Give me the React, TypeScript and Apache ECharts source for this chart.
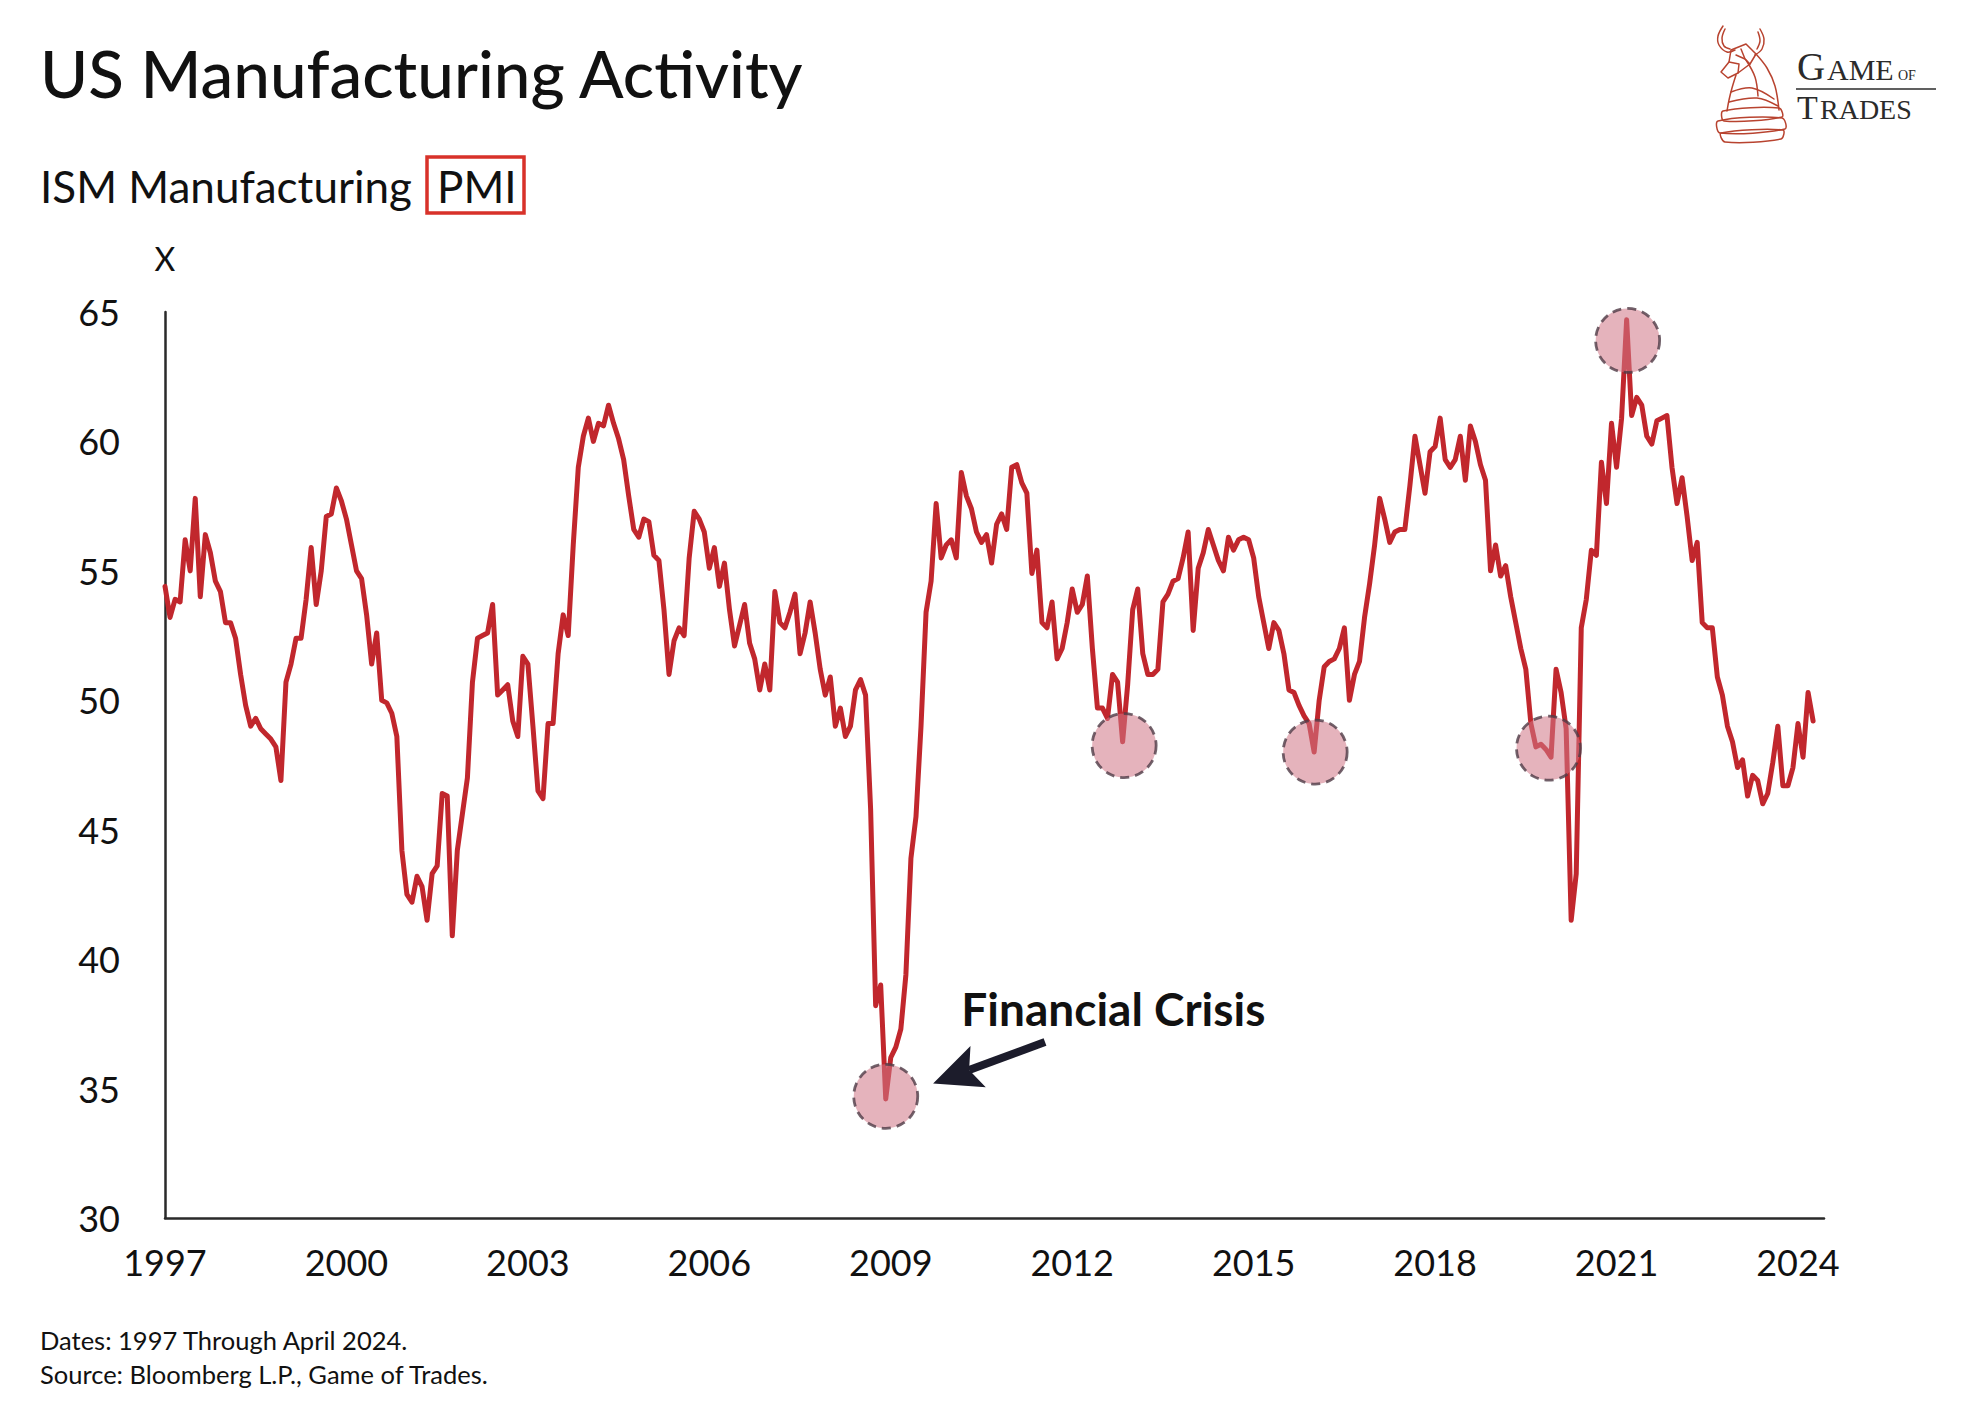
import React, { useEffect, useRef } from "react";
import * as echarts from "echarts";

// ---------- DATA (ISM Manufacturing PMI, monthly, Jan 1997 – Apr 2024) ----------
const START_YEAR = 1997;
const pmi1997 = [54.4, 53.2, 53.9, 53.8, 56.2, 55.0, 57.8, 54.0, 56.4, 55.7, 54.6, 54.2];
const pmi1998 = [53.0, 53.0, 52.4, 51.0, 49.8, 49.0, 49.3, 48.9, 48.7, 48.5, 48.2, 46.9];
const pmi1999 = [50.7, 51.4, 52.4, 52.4, 53.9, 55.9, 53.7, 55.0, 57.1, 57.2, 58.2, 57.7];
const pmi2000 = [57.0, 56.0, 55.0, 54.7, 53.3, 51.4, 52.6, 50.0, 49.9, 49.5, 48.6, 44.2];
const pmi2001 = [42.5, 42.2, 43.2, 42.8, 41.5, 43.3, 43.6, 46.4, 46.3, 40.9, 44.2, 45.6];
const pmi2002 = [47.0, 50.7, 52.4, 52.5, 52.6, 53.7, 50.2, 50.4, 50.6, 49.2, 48.6, 51.7];
const pmi2003 = [51.4, 49.0, 46.5, 46.2, 49.1, 49.1, 51.8, 53.3, 52.5, 56.0, 59.0, 60.2];
const pmi2004 = [60.9, 60.0, 60.7, 60.6, 61.4, 60.7, 60.1, 59.3, 57.9, 56.6, 56.3, 57.0];
const pmi2005 = [56.9, 55.6, 55.4, 53.5, 51.0, 52.3, 52.8, 52.5, 55.5, 57.3, 57.0, 56.5];
const pmi2006 = [55.1, 55.9, 54.4, 55.3, 53.5, 52.1, 52.9, 53.7, 52.2, 51.6, 50.4, 51.4];
const pmi2007 = [50.4, 54.2, 53.0, 52.8, 53.4, 54.1, 51.8, 52.6, 53.8, 52.6, 51.2, 50.2];
const pmi2008 = [50.9, 49.0, 49.7, 48.6, 49.0, 50.4, 50.8, 50.2, 45.8, 38.2, 39.0, 34.6];
const pmi2009 = [36.2, 36.6, 37.3, 39.4, 43.9, 45.5, 49.0, 53.4, 54.6, 57.6, 55.5, 56.0];
const pmi2010 = [56.2, 55.5, 58.8, 57.9, 57.4, 56.5, 56.1, 56.4, 55.3, 56.8, 57.2, 56.6];
const pmi2011 = [59.0, 59.1, 58.4, 58.0, 54.9, 55.8, 53.0, 52.8, 53.8, 51.6, 52.0, 53.0];
const pmi2012 = [54.3, 53.4, 53.7, 54.8, 52.0, 49.7, 49.7, 49.3, 51.0, 50.7, 48.4, 50.6];
const pmi2013 = [53.5, 54.3, 51.8, 51.0, 51.0, 51.2, 53.8, 54.1, 54.6, 54.7, 55.5, 56.5];
const pmi2014 = [52.7, 55.1, 55.7, 56.6, 56.0, 55.4, 55.0, 56.3, 55.8, 56.2, 56.3, 56.2];
const pmi2015 = [55.5, 54.0, 53.0, 52.0, 53.0, 52.7, 51.8, 50.4, 50.3, 49.8, 49.4, 49.1];
const pmi2016 = [48.0, 50.0, 51.3, 51.5, 51.6, 52.0, 52.8, 50.0, 51.0, 51.5, 53.2, 54.5];
const pmi2017 = [56.0, 57.8, 57.0, 56.1, 56.5, 56.6, 56.6, 58.3, 60.2, 59.1, 58.0, 59.6];
const pmi2018 = [59.8, 60.9, 59.3, 59.0, 59.3, 60.2, 58.5, 60.6, 60.0, 59.1, 58.5, 55.0];
const pmi2019 = [56.0, 54.8, 55.2, 54.0, 53.0, 52.0, 51.2, 49.1, 48.2, 48.3, 48.1, 47.8];
const pmi2020 = [51.2, 50.3, 48.9, 41.5, 43.3, 52.8, 53.9, 55.8, 55.6, 59.2, 57.6, 60.7];
const pmi2021 = [59.0, 60.9, 64.7, 61.0, 61.7, 61.4, 60.2, 59.9, 60.8, 60.9, 61.0, 59.0];
const pmi2022 = [57.6, 58.6, 57.1, 55.4, 56.1, 53.0, 52.8, 52.8, 50.9, 50.2, 49.0, 48.4];
const pmi2023 = [47.4, 47.7, 46.3, 47.1, 46.9, 46.0, 46.4, 47.6, 49.0, 46.7, 46.7, 47.4];
const pmi2024 = [49.1, 47.8, 50.3, 49.2];

const pmiMonthly: number[] = [
  ...pmi1997, ...pmi1998, ...pmi1999, ...pmi2000, ...pmi2001, ...pmi2002, ...pmi2003,
  ...pmi2004, ...pmi2005, ...pmi2006, ...pmi2007, ...pmi2008, ...pmi2009, ...pmi2010,
  ...pmi2011, ...pmi2012, ...pmi2013, ...pmi2014, ...pmi2015, ...pmi2016, ...pmi2017,
  ...pmi2018, ...pmi2019, ...pmi2020, ...pmi2021, ...pmi2022, ...pmi2023, ...pmi2024,
];

// axis ticks
const yMin = 30;
const yMax = 65;
const yStep = 5;
const xStepYears = 3;
const xMaxYears = 27.43;

// highlighted episodes (month index from Jan 1997, value)
const highlightMonths = [143, 190.3, 228.2, 274.5, 290.2];
const highlightValues = [34.7, 48.25, 48.0, 48.15, 63.9];

// annotation anchors (month index, value)
const arrowTail = [174.6, 36.8];
const arrowTip = [152.4, 35.2];
const crisisLabelAnchor = [158.0, 38.1];

// texts
const titleText = "US Manufacturing Activity";
const subtitleText = "ISM Manufacturing";
const subtitleBoxed = "PMI";
const yAxisName = "X";
const crisisText = "Financial Crisis";
const footer1 = "Dates: 1997 Through April 2024.";
const footer2 = "Source: Bloomberg L.P., Game of Trades.";

// ---------- STYLE ----------
const SANS = "Lato, 'Open Sans', 'DejaVu Sans', sans-serif";
const SERIF = "'Liberation Serif', 'DejaVu Serif', serif";
const INK = "#111111";
const LINE_RED = "#c1272d";
const LOGO_RED = "#b8432f";
const LOGO_INK = "#2b2b2b";

function txt(id: string, text: string, x: number, y: number, size: number, opts: any = {}) {
  return {
    type: "text",
    id,
    silent: true,
    style: {
      text,
      x,
      y,
      fill: opts.fill || INK,
      fontSize: size,
      fontFamily: opts.family || SANS,
      fontWeight: opts.weight || 400,
      align: opts.align || "left",
      textAlign: opts.align || "left",
      verticalAlign: "middle",
      textVerticalAlign: "middle",
    },
    z: 10,
  };
}

function logoGraphics() {
  const s = { stroke: LOGO_RED, lineWidth: 1.5, fill: "none" as any, lineJoin: "round", lineCap: "round" };
  const pl = (id: string, pts: number[][], smooth = 0.35) => ({
    type: "polyline", id, silent: true, shape: { points: pts, smooth }, style: s, z: 10,
  });
  const pg = (id: string, pts: number[][], smooth = 0) => ({
    type: "polygon", id, silent: true, shape: { points: pts, smooth }, style: s, z: 10,
  });
  return [
    // horns
    pl("hornL", [[1723, 26], [1718, 36], [1719, 45], [1727, 52], [1735, 50]]),
    pl("hornLi", [[1725, 29], [1722, 38], [1724, 46], [1730, 49]]),
    pl("hornR", [[1760, 29], [1764, 39], [1762, 49], [1755, 55]]),
    pl("hornRi", [[1758, 32], [1760, 41], [1757, 49]]),
    // head
    pg("head", [[1731, 50], [1746, 44], [1756, 54], [1750, 64], [1738, 73], [1728, 78], [1721, 72], [1729, 62]]),
    pl("face1", [[1736, 55], [1745, 59], [1750, 64]], 0),
    pl("face2", [[1729, 62], [1739, 64], [1738, 73]], 0),
    pl("face3", [[1741, 49], [1745, 59]], 0),
    // body
    pl("front", [[1736, 75], [1732, 88], [1729, 100], [1727, 111]]),
    pl("back", [[1756, 54], [1767, 68], [1775, 86], [1779, 110]]),
    pl("mane1", [[1746, 60], [1755, 77], [1758, 96]]),
    pl("mane2", [[1731, 92], [1752, 88], [1774, 99]]),
    pl("mane3", [[1729, 102], [1757, 98], [1778, 106]]),
    // base
    pg("base1", [[1723, 111], [1779, 108], [1782, 117], [1724, 121]], 0.3),
    pg("base2", [[1718, 121], [1782, 118], [1785, 129], [1720, 133]], 0.3),
    pg("base3", [[1721, 133], [1783, 130], [1781, 139], [1725, 142]], 0.3),
    // wordmark
    txt("lg_G", "G", 1797, 66.8, 39, { family: SERIF, fill: LOGO_INK }),
    txt("lg_AME", "AME", 1827, 69.9, 30, { family: SERIF, fill: LOGO_INK }),
    txt("lg_OF", "OF", 1898, 75.3, 14, { family: SERIF, fill: LOGO_INK }),
    { type: "line", id: "lg_rule", silent: true, shape: { x1: 1796, y1: 89, x2: 1936, y2: 89 }, style: { stroke: LOGO_INK, lineWidth: 1.6 }, z: 10 },
    txt("lg_T", "T", 1797, 107.3, 34, { family: SERIF, fill: LOGO_INK }),
    txt("lg_RADES", "RADES", 1820, 109.4, 28, { family: SERIF, fill: LOGO_INK }),
  ];
}

function staticGraphics() {
  return [
    txt("title", titleText, 40, 72, 65.5, { weight: 500 }),
    txt("subtitle", subtitleText, 40, 186, 44),
    txt("subtitleBox", subtitleBoxed, 437, 186, 44),
    {
      type: "rect",
      id: "pmiBox",
      silent: true,
      shape: { x: 427, y: 157, width: 97, height: 56 },
      style: { stroke: "#d8322a", lineWidth: 3.5, fill: "none" },
      z: 10,
    },
    txt("footer1", footer1, 40, 1340, 25.5),
    txt("footer2", footer2, 40, 1374, 25.5),
    ...logoGraphics(),
  ];
}

export default function App() {
  const ref = useRef<HTMLDivElement>(null);

  useEffect(() => {
    if (!ref.current) return;
    const chart = echarts.init(ref.current, null, { renderer: "svg" });

    const lineData = pmiMonthly.map((v, i) => [i / 12, v]);
    const highlightData = highlightMonths.map((m, i) => [m / 12, highlightValues[i]]);

    chart.setOption({
      animation: false,
      backgroundColor: "#ffffff",
      grid: { left: 165, right: 162, top: 312, bottom: 200, containLabel: false },
      xAxis: {
        type: "value",
        min: 0,
        max: xMaxYears,
        interval: xStepYears,
        axisLine: { show: true, onZero: false, lineStyle: { color: "#2a2a2a", width: 2.5 } },
        axisTick: { show: false },
        splitLine: { show: false },
        axisLabel: {
          margin: 26,
          fontSize: 36,
          fontFamily: SANS,
          color: INK,
          formatter: (v: number) => {
            const r = Math.round(v);
            return Math.abs(v - r) < 1e-6 && r % xStepYears === 0 ? String(START_YEAR + r) : "";
          },
        },
      },
      yAxis: {
        type: "value",
        min: yMin,
        max: yMax,
        interval: yStep,
        name: yAxisName,
        nameLocation: "end",
        nameGap: 38,
        nameTextStyle: { fontSize: 32, fontFamily: SANS, color: INK, align: "center" },
        axisLine: { show: true, lineStyle: { color: "#2a2a2a", width: 2.5 } },
        axisTick: { show: false },
        splitLine: { show: false },
        axisLabel: { margin: 45, fontSize: 36, fontFamily: SANS, color: INK },
      },
      series: [
        {
          type: "line",
          name: "ISM Manufacturing PMI",
          data: lineData,
          showSymbol: false,
          symbol: "none",
          lineStyle: { color: LINE_RED, width: 5, join: "round", cap: "round" },
          z: 2,
          silent: true,
        },
        {
          type: "scatter",
          name: "highlights",
          data: highlightData,
          symbol: "circle",
          symbolSize: 64,
          itemStyle: {
            color: "rgba(208,119,136,0.7)",
            borderColor: "#4f3b46",
            borderWidth: 2.8,
            borderType: [9, 6],
          },
          z: 3,
          silent: true,
        },
      ],
      graphic: { elements: staticGraphics() },
    });

    // annotation arrow + label positioned through the chart's own scales
    const tail = chart.convertToPixel({ gridIndex: 0 }, [arrowTail[0] / 12, arrowTail[1]]) as number[];
    const tip = chart.convertToPixel({ gridIndex: 0 }, [arrowTip[0] / 12, arrowTip[1]]) as number[];
    const lab = chart.convertToPixel({ gridIndex: 0 }, [crisisLabelAnchor[0] / 12, crisisLabelAnchor[1]]) as number[];
    const dx = tail[0] - tip[0];
    const dy = tail[1] - tip[1];
    const len = Math.hypot(dx, dy) || 1;
    const ux = dx / len, uy = dy / len;
    const nx = -uy, ny = ux;
    const headLen = 48, headW = 44;
    const bx = tip[0] + ux * headLen, by = tip[1] + uy * headLen;
    const notchX = tip[0] + ux * headLen * 0.8, notchY = tip[1] + uy * headLen * 0.8;

    chart.setOption({
      graphic: {
        elements: [
          ...staticGraphics(),
          {
            type: "line",
            id: "arrowShaft",
            silent: true,
            shape: { x1: tail[0], y1: tail[1], x2: notchX, y2: notchY },
            style: { stroke: "#1c1c2b", lineWidth: 8, lineCap: "butt" },
            z: 12,
          },
          {
            type: "polygon",
            id: "arrowHead",
            silent: true,
            shape: {
              points: [
                [tip[0], tip[1]],
                [bx + (nx * headW) / 2, by + (ny * headW) / 2],
                [notchX, notchY],
                [bx - (nx * headW) / 2, by - (ny * headW) / 2],
              ],
            },
            style: { fill: "#1c1c2b" },
            z: 12,
          },
          txt("crisis", crisisText, lab[0], lab[1], 46, { weight: 700 }),
        ],
      },
    });

    return () => {
      chart.dispose();
    };
  }, []);

  return (
    <div
      ref={ref}
      style={{ position: "absolute", left: 0, top: 0, width: 1986, height: 1418, background: "#ffffff" }}
    />
  );
}
